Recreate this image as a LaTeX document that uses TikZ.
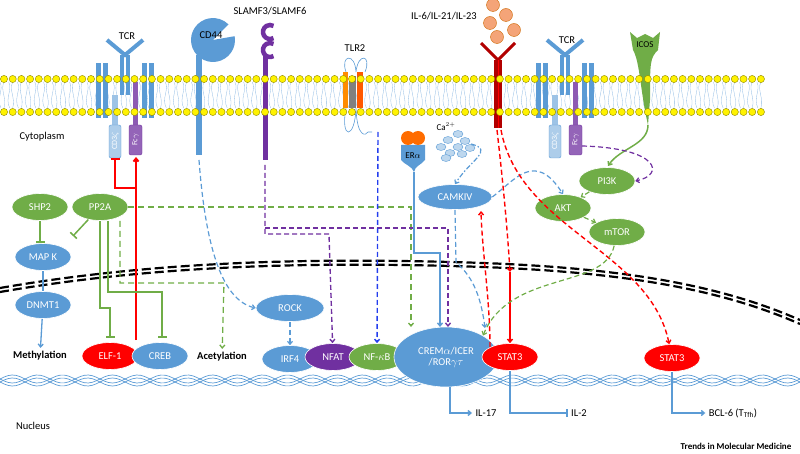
\documentclass[tikz,border=0pt]{standalone}
\usepackage{fontspec}
\setmainfont{Carlito}
\usetikzlibrary{arrows.meta,shapes.geometric}
\definecolor{mb}{RGB}{91,155,213}
\definecolor{mg}{RGB}{112,173,71}
\definecolor{mp}{RGB}{112,48,160}
\definecolor{mo}{RGB}{244,164,120}
\begin{document}
\begin{tikzpicture}[x=1pt,y=-1pt,
 ell/.style={ellipse,draw=white,line width=0.6pt,minimum width=#1,minimum height=27pt,inner sep=0pt,text=white,font=\fontsize{10.5}{11}\selectfont},
 ell/.default=56pt,
 bl/.style={ell,fill=mb},
 gr/.style={ell,fill=mg},
 rd/.style={ell,fill=red},
 pu/.style={ell,fill=mp},
 lab/.style={font=\fontsize{10.5}{11}\selectfont},
 dsh/.style={dash pattern=on 5pt off 3pt,line width=1.4pt},
 arr/.style={-{Straight Barb[length=3pt,width=5pt]}},
 bar/.style={-{Bar[width=9pt,line width=1.6pt]}},
]
\useasboundingbox (0,0) rectangle (800,454);
% membrane tails
\foreach \i in {0,...,87}{
 \draw[mb!70,line width=0.3pt] (\i*8.7,82) .. controls (\i*8.7+4,90) and (\i*8.7-4,98) .. (\i*8.7+1,108);
 \draw[mb!70,line width=0.3pt] (\i*8.7+4,82) .. controls (\i*8.7,90) and (\i*8.7+7,98) .. (\i*8.7+4,108);}
% receptors behind dots
\foreach \x in {125,565}{
 \fill[mb] (\x-29,63) rectangle (\x-24,118); \fill[mb] (\x-22,63) rectangle (\x-17,118);
 \fill[mb] (\x+17,63) rectangle (\x+22,118); \fill[mb] (\x+24,63) rectangle (\x+29,118);
 \fill[mb] (\x-5,55) rectangle (\x-1,95); \fill[mb] (\x+1,55) rectangle (\x+5,95);
 \draw[mb,line width=4pt] (\x-18,40) -- (\x,55) -- (\x+18,40);
 \fill[mb!60] (\x-13,95) rectangle (\x-7,125);
 \fill[mp!80] (\x+8,82) rectangle (\x+13,125);
 \draw[mb,fill=mb!50,rounded corners=2pt] (\x-16,125) rectangle (\x-4,158);
 \node[rotate=90,text=white,font=\fontsize{8}{8}\selectfont] (cd\x) at (\x-10,141) {CD3$\zeta$};
 \draw[mp,fill=mp!75,rounded corners=2pt] (\x+4,125) rectangle (\x+17,155);
 \node[rotate=90,text=white,font=\fontsize{8}{8}\selectfont] (fc\x) at (\x+10.5,140) {Fc$\gamma$};
}
\node[lab] at (127,36) {TCR};
\node[lab] at (567,40) {TCR};
% CD44
\fill[mb] (196,55) rectangle (202,155);
\fill[mb] (213,40) -- ++(-10:22) arc (-10:315:22) -- cycle;
\node[lab] at (211,35) {CD44};
% SLAMF
\draw[mp,line width=4.5pt] (270,32) ++(60:7) arc (60:300:7);
\draw[mp,line width=4.5pt] (270,50) ++(60:7) arc (60:300:7);
\draw[mp,line width=5pt] (265,56) -- (265,160);
\node[lab] at (270,11) {SLAMF3/SLAMF6};
% TLR2
\draw[mb,line width=0.6pt] (346,72) .. controls (340,55) and (355,52) .. (356,72) (356,72) .. controls (358,52) and (372,55) .. (365,72);
\fill[orange!90!yellow] (343,72) rectangle (348,108);
\fill[gray] (349,76) rectangle (356,108);
\fill[orange!70!red] (357,72) rectangle (363,108);
\draw[mb,line width=0.6pt] (346,108) .. controls (340,140) and (355,140) .. (356,108) (356,108) .. controls (357,138) and (366,136) .. (368,132) -- (372,132);
\node[lab] at (355,48) {TLR2};
% IL-6 receptor
\draw[red!70!black,line width=3pt] (481,43) -- (498,60) -- (515,43);
\fill[red!70!black] (494,60) rectangle (502,128);
\draw[red,line width=0.6pt] (498,60) -- (498,128);
\node[lab] at (444,16) {IL-6/IL-21/IL-23};
\foreach \p in {(493,5),(506,15),(490,23),(514,30),(497,37)} \draw[orange!80!black,fill=mo] \p circle (6.5);
% ICOS
\fill[mg] (630,32) -- (637,38) -- (645,34) -- (653,38) -- (660,32) -- (658,50) .. controls (650,58) and (650,62) .. (650,100) -- (648,125) .. controls (640,90) and (640,62) .. (633,50) -- cycle;
\node[font=\fontsize{9}{9}\selectfont] at (645,45) {ICOS};
\draw[mg,line width=1.5pt,arr] (648,125) .. controls (648,145) and (620,148) .. (608,166);
% dots
\foreach \i in {0,...,87}{
 \draw[olive,fill=yellow] (\i*8.7+4,79) circle (3.6);
 \draw[olive,fill=yellow] (\i*8.7+4,112) circle (3.6);}
% ER alpha
\fill[mb] (401,145) -- (425,145) -- (425,160) .. controls (421,165) and (415,166) .. (414,172) .. controls (412,166) and (405,165) .. (401,160) -- cycle;
\fill[orange!85!red] (408,138) circle (7) (418,138) circle (7);
\node[font=\fontsize{9}{9}\selectfont] at (413,156) {ER$\alpha$};
\node[font=\fontsize{9}{9}\selectfont] at (446,127) {Ca$^{2+}$};
\foreach \p in {(458,134),(448,140),(465,141),(441,147),(458,147),(470,148),(450,153),(462,154),(446,158)}
 \draw[mb,fill=mb!40,line width=0.4pt] \p ellipse (5 and 3.5);
% nucleus envelope and DNA
\foreach \o in {0,4}{
 \draw[line width=2.2pt,dash pattern=on 9pt off 4pt] (0,288+\o) .. controls (150,262+\o) and (300,258+\o) .. (450,262+\o) .. controls (620,266+\o) and (720,285+\o) .. (800,320+\o);}
\foreach \o in {0,3}{
 \draw[mb,line width=0.7pt,domain=0:800,samples=200] plot (\x,{379+\o+4*sin(\x*7.2)});
 \draw[mb,line width=0.7pt,domain=0:800,samples=200] plot (\x,{379+\o-4*sin(\x*7.2)});}
% text labels
\node[lab] at (42,137) {Cytoplasm};
\node[lab] at (33,426) {Nucleus};
\node[font=\bfseries\fontsize{9}{9}\selectfont] at (736,446) {Trends in Molecular Medicine};
\node[font=\bfseries\fontsize{10.5}{11}\selectfont] (meth) at (40,356) {Methylation};
\node[font=\bfseries\fontsize{10.5}{11}\selectfont] (acet) at (222,357) {Acetylation};
% nodes
\node[gr] (shp2) at (40,207) {SHP2};
\node[gr] (pp2a) at (100,207) {PP2A};
\node[bl] (mapk) at (43,257) {MAP K};
\node[bl] (dnmt1) at (43,305) {DNMT1};
\node[rd] (elf1) at (110,356) {ELF-1};
\node[bl] (creb) at (160,356) {CREB};
\node[bl,minimum width=68pt] (rock) at (290,308) {ROCK};
\node[bl] (irf4) at (290,359) {IRF4};
\node[pu] (nfat) at (333,357) {NFAT};
\node[gr] (nfkb) at (377,357) {NF-$\kappa$B};
\node[bl,minimum width=104pt,minimum height=60pt,align=center] (crem) at (446,357) {CREM$\alpha$/ICER\\/ROR$\gamma\tau$};
\node[rd] (stat3a) at (510,357) {STAT3};
\node[rd] (stat3b) at (672,358) {STAT3};
\node[bl,minimum width=74pt,minimum height=25pt] (camk) at (455,197) {CAMKIV};
\node[gr] (pi3k) at (607,181) {PI3K};
\node[gr] (akt) at (563,208) {AKT};
\node[gr] (mtor) at (617,232) {mTOR};
\node[lab] (il17) at (486,413) {IL-17};
\node[lab] (il2) at (579,413) {IL-2};
\node[lab] (bcl6) at (733,413) {BCL-6 (T$_{\mathrm{Tfh}}$)};
% connectors
\draw[red,line width=2pt,arr] (136,340) -- (136,157);
\draw[red,line width=2pt,bar] (136,188) -- (115,188) -- (115,158);
\draw[mg,line width=1.5pt,bar] (shp2) -- (40,243);
\draw[mg,line width=1.5pt,bar] (pp2a) -- (73,236);
\draw[mg,line width=1.5pt,bar] (100,221) -- (100,308) -- (110,308) -- (110,338);
\draw[mg,line width=1.5pt,bar] (108,221) -- (108,292) -- (162,292) -- (162,338);
\draw[mg,dash pattern=on 6pt off 4pt,line width=1.3pt,arr] (pp2a) -- (411,207) -- (411,327);
\draw[mg,dash pattern=on 6pt off 4pt,line width=1.3pt,arr] (120,221) -- (120,283) -- (224,283) -- (acet);
\draw[mb,line width=1.3pt] (mapk) -- (dnmt1);
\draw[mb,line width=1.3pt,arr] (dnmt1) -- (meth);
\draw[mb,dsh,line width=1.2pt,arr] (199,160) .. controls (205,240) and (220,300) .. (rock.west);
\draw[mb,dsh,line width=1.2pt,arr] (rock) -- (irf4);
\draw[mp,dsh,arr] (265,165) -- (265,234) -- (329,234) -- (nfat);
\draw[mp,dsh,arr] (265,228) -- (448,228) -- (448,327);
\draw[blue!60!mb,dsh,arr] (378,132) -- (nfkb);
\draw[mb,line width=1.4pt,arr] (414,172) -- (414,253) -- (440,253) -- (440,327);
\draw[mb,dash pattern=on 5pt off 2pt on 1.5pt off 2pt,line width=1.2pt,arr] (471,144) .. controls (495,150) and (470,160) .. (camk.north);
\draw[mb,dsh,line width=1.2pt,arr] (camk.south) -- (456,262) .. controls (470,275) and (480,290) .. (485,328);
\draw[mb,dsh,line width=1.2pt,arr] (camk.east) .. controls (515,180) and (535,150) .. (akt.north);
\draw[red,dsh,arr] (497,130) .. controls (505,200) and (508,240) .. (510,272);
\draw[red,dsh,arr] (501,130) .. controls (520,230) and (650,250) .. (stat3b);
\draw[red,dsh,arr] (stat3a.north west) .. controls (490,300) and (482,250) .. (481,211);
\draw[red,line width=1.5pt,arr] (510,272) -- (stat3a);
\draw[mp,dsh,line width=1.2pt,arr] (582,146) .. controls (660,148) and (665,175) .. (pi3k.east);
\draw[mg,dsh,line width=1.2pt,arr] (pi3k) -- (akt);
\draw[mg,dsh,line width=1.2pt,arr] (akt) -- (mtor);
\draw[mg,dsh,line width=1.2pt,arr] (mtor) .. controls (605,290) and (510,270) .. (crem.north east);
\draw[mb,line width=1.4pt,arr] (450,387) -- (450,413) -- (il17);
\draw[mb,line width=1.4pt,-{Bar[width=8pt]}] (stat3a.south) -- (510,413) -- (il2);
\draw[mb,line width=1.4pt,arr] (stat3b.south) -- (672,413) -- (bcl6);
\end{tikzpicture}
\end{document}
